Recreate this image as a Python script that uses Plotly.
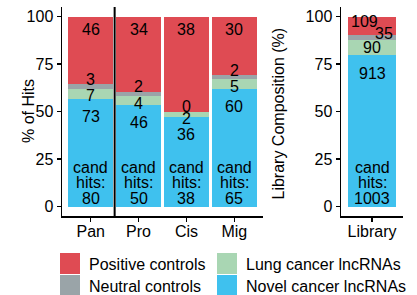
import plotly.graph_objects as go

# ---- data ----
categories = ["Pan", "Pro", "Cis", "Mig"]
lib_categories = ["Library"]
series_names = ["Novel cancer lncRNAs", "Lung cancer lncRNAs", "Neutral controls", "Positive controls"]
series_colors = ["#3FC1EE", "#A9D6B3", "#9AA4A8", "#DF4B53"]
novel = [73, 46, 36, 60]
lung = [7, 4, 2, 5]
neutral = [3, 2, 0, 2]
positive = [46, 34, 38, 30]
cand_hits = [80, 50, 38, 65]
lib_novel = [913]
lib_lung = [90]
lib_neutral = [35]
lib_positive = [109]
lib_cand = [1003]
y_ticks = [0, 25, 50, 75, 100]

W, H = 417, 295
FONT = "Liberation Sans, Arial, sans-serif"
FS = 16


def pct(series):
    totals = [sum(v) for v in zip(*series)]
    return [[c / t * 100 for c, t in zip(s, totals)] for s in series]


main_series = [novel, lung, neutral, positive]
lib_series = [lib_novel, lib_lung, lib_neutral, lib_positive]
main_pct = pct(main_series)
lib_pct = pct(lib_series)

fig = go.Figure()
for i, name in enumerate(series_names):
    fig.add_trace(go.Bar(x=categories, y=main_pct[i], name=name, marker_color=series_colors[i],
                         marker_line_width=0, width=0.93, xaxis="x", yaxis="y", showlegend=False,
                         hoverinfo="skip"))
    fig.add_trace(go.Bar(x=lib_categories, y=lib_pct[i], name=name, marker_color=series_colors[i],
                         marker_line_width=0, width=0.92, xaxis="x2", yaxis="y2", showlegend=False,
                         hoverinfo="skip"))

annotations = []


def add_labels(series, pcts, cands, xref, yref, lib=False):
    n = len(cands)
    for j in range(n):
        novel_top = pcts[0][j]
        lung_top = novel_top + pcts[1][j]
        neutral_top = lung_top + pcts[2][j]
        items = [
            (series[0][j], novel_top, -18, 0),
            (series[1][j], lung_top, -7, 0),
            (series[2][j], neutral_top, 1 if lib else 5, 12 if lib else 0),
            (series[3][j], 100, -5 if lib else -13, -8 if lib else 0),
        ]
        for val, yv, ys, xs in items:
            annotations.append(dict(x=j, y=yv, xref=xref, yref=yref, text=str(val), showarrow=False,
                                    yshift=ys, xshift=xs, font=dict(family=FONT, size=FS, color="black")))
        for txt, ys in [("cand", 39), ("hits:", 24), (str(cands[j]), 8)]:
            annotations.append(dict(x=j, y=0, xref=xref, yref=yref, text=txt, showarrow=False,
                                    yshift=ys, font=dict(family=FONT, size=FS, color="black")))


add_labels(main_series, main_pct, cand_hits, "x", "y")
add_labels(lib_series, lib_pct, lib_cand, "x2", "y2", lib=True)

# axis titles
annotations.append(dict(x=18 / W, y=1 - 111.5 / H, xref="paper", yref="paper", text="% of Hits",
                        textangle=-90, showarrow=False, font=dict(family=FONT, size=FS, color="black")))
annotations.append(dict(x=288 / W, y=1 - 114 / H, xref="paper", yref="paper", text="Library Composition (%)",
                        textangle=-90, showarrow=False, font=dict(family=FONT, size=FS, color="black")))

# manual legend
shapes = []
legend_layout = [(0, 60, 253), (1, 217, 253), (2, 60, 275), (3, 217, 275)]
legend_order = [3, 1, 2, 0]
for (slot, kx, ky), si in zip(legend_layout, legend_order):
    shapes.append(dict(type="rect", xref="paper", yref="paper", x0=kx / W, x1=(kx + 20) / W,
                       y0=1 - (ky + 21) / H, y1=1 - ky / H, fillcolor=series_colors[si], line_width=0))
    annotations.append(dict(x=(kx + 27) / W, y=1 - (ky + 11) / H, xref="paper", yref="paper",
                            text=series_names[si], showarrow=False, xanchor="left", yanchor="middle",
                            font=dict(family=FONT, size=FS, color="black")))

# divider line between Pan and Pro
shapes.append(dict(type="line", xref="x", yref="y domain", x0=0.5, x1=0.5, y0=0, y1=1,
                   line=dict(color="black", width=2)))

axis_common = dict(showline=True, linecolor="black", linewidth=1.5, ticks="outside", ticklen=4,
                   tickwidth=1.5, tickcolor="black", showgrid=False, zeroline=False,
                   tickfont=dict(family=FONT, size=FS, color="black"))
ydom = [(H - 216) / H, (H - 7) / H]

fig.update_layout(
    width=W, height=H, margin=dict(l=0, r=0, t=0, b=0),
    paper_bgcolor="white", plot_bgcolor="white", barmode="stack", bargap=0,
    showlegend=False,
    xaxis=dict(domain=[62 / W, 263 / W], range=[-0.6, 3.6], type="category", anchor="y",
               ticklabelstandoff=-4, **axis_common),
    yaxis=dict(domain=ydom, range=[-5, 105], tickvals=y_ticks, anchor="x", **axis_common),
    xaxis2=dict(domain=[341 / W, 403 / W], range=[-0.6, 0.6], type="category", anchor="y2",
                ticklabelstandoff=-4, **axis_common),
    yaxis2=dict(domain=ydom, range=[-5, 105], tickvals=y_ticks, anchor="x2", **axis_common),
    annotations=annotations, shapes=shapes,
)

fig.write_html("out.html", config={"staticPlot": True},
               post_script="document.body.style.margin='0';document.body.style.overflow='hidden';")
